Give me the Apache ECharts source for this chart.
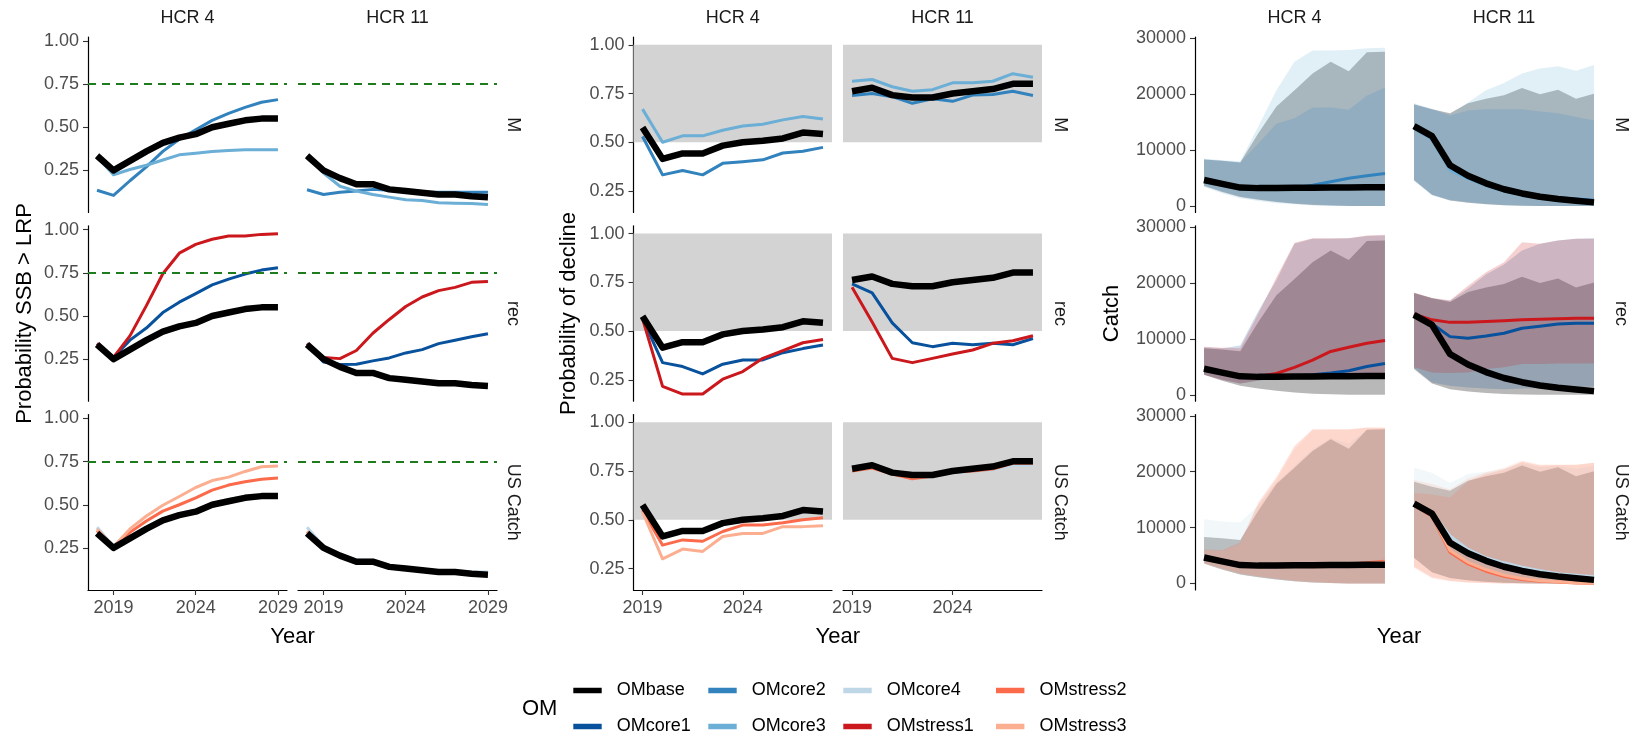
<!DOCTYPE html>
<html>
<head>
<meta charset="utf-8">
<script src="https://cdn.jsdelivr.net/npm/echarts@6/dist/echarts.min.js"></script>
<style>
  html, body { margin: 0; padding: 0; background: #ffffff; }
  #chart { width: 1637px; height: 738px; }
</style>
</head>
<body>
<div id="chart"></div>
<script>
// ---------------- data ----------------
const yearsSSB   = [2018, 2019, 2020, 2021, 2022, 2023, 2024, 2025, 2026, 2027, 2028, 2029];
const yearsDec   = [2019, 2020, 2021, 2022, 2023, 2024, 2025, 2026, 2027, 2028];
const yearsCatch = [2019, 2020, 2021, 2022, 2023, 2024, 2025, 2026, 2027, 2028, 2029];

const hcrLabels = ['HCR 4', 'HCR 11'];
const rowLabels = ['M', 'rec', 'US Catch'];
const omNames = ['OMbase', 'OMcore1', 'OMcore2', 'OMcore3', 'OMcore4', 'OMstress1', 'OMstress2', 'OMstress3'];

// Probability SSB > LRP
const ssbBase4        = [0.335, 0.25, 0.305, 0.36, 0.41, 0.44, 0.46, 0.50, 0.52, 0.54, 0.55, 0.55];
const ssbBase11       = [0.335, 0.25, 0.205, 0.17, 0.17, 0.14, 0.13, 0.12, 0.11, 0.11, 0.10, 0.095];
const ssbCore2M4      = [0.135, 0.105, 0.19, 0.27, 0.36, 0.43, 0.485, 0.54, 0.58, 0.615, 0.645, 0.66];
const ssbCore3M4      = [0.33, 0.225, 0.255, 0.28, 0.31, 0.34, 0.35, 0.36, 0.365, 0.37, 0.37, 0.37];
const ssbCore2M11     = [0.138, 0.11, 0.123, 0.13, 0.14, 0.135, 0.13, 0.125, 0.123, 0.123, 0.123, 0.123];
const ssbCore3M11     = [0.335, 0.235, 0.158, 0.13, 0.11, 0.095, 0.08, 0.075, 0.062, 0.06, 0.058, 0.052];
const ssbCore1Rec4    = [0.34, 0.26, 0.36, 0.43, 0.52, 0.58, 0.63, 0.68, 0.714, 0.743, 0.766, 0.78];
const ssbStress1Rec4  = [0.34, 0.26, 0.385, 0.56, 0.745, 0.864, 0.915, 0.945, 0.964, 0.964, 0.973, 0.977];
const ssbCore1Rec11   = [0.34, 0.234, 0.219, 0.22, 0.24, 0.257, 0.286, 0.305, 0.34, 0.36, 0.38, 0.397];
const ssbStress1Rec11 = [0.34, 0.26, 0.253, 0.30, 0.40, 0.48, 0.555, 0.61, 0.647, 0.666, 0.695, 0.70];
const ssbCore4US4     = [0.37, 0.26, 0.315, 0.365, 0.415, 0.45, 0.47, 0.51, 0.53, 0.55, 0.555, 0.555];
const ssbStress2US4   = [0.35, 0.256, 0.34, 0.406, 0.463, 0.50, 0.54, 0.585, 0.614, 0.633, 0.648, 0.655];
const ssbStress3US4   = [0.36, 0.256, 0.36, 0.435, 0.497, 0.548, 0.60, 0.64, 0.66, 0.693, 0.72, 0.725];
const ssbCore4US11    = [0.37, 0.26, 0.215, 0.18, 0.18, 0.15, 0.135, 0.125, 0.115, 0.115, 0.11, 0.11];
const ssbStress2US11  = [0.345, 0.25, 0.20, 0.165, 0.165, 0.14, 0.13, 0.12, 0.115, 0.11, 0.10, 0.095];
const ssbStress3US11  = [0.345, 0.25, 0.205, 0.17, 0.168, 0.14, 0.13, 0.12, 0.11, 0.108, 0.10, 0.092];
const lrpThreshold = 0.75;

// Probability of decline
const decBase4        = [0.576, 0.415, 0.443, 0.443, 0.483, 0.50, 0.508, 0.52, 0.55, 0.542];
const decBase11       = [0.762, 0.78, 0.742, 0.73, 0.73, 0.75, 0.762, 0.773, 0.80, 0.80];
const decCore2M4      = [0.53, 0.333, 0.355, 0.333, 0.392, 0.40, 0.41, 0.445, 0.454, 0.474];
const decCore3M4      = [0.67, 0.50, 0.533, 0.533, 0.562, 0.584, 0.593, 0.615, 0.632, 0.62];
const decCore2M11     = [0.74, 0.75, 0.734, 0.70, 0.723, 0.71, 0.742, 0.745, 0.762, 0.74];
const decCore3M11     = [0.813, 0.822, 0.785, 0.762, 0.77, 0.805, 0.805, 0.813, 0.852, 0.834];
const decCore1Rec4    = [0.564, 0.338, 0.318, 0.28, 0.33, 0.352, 0.352, 0.389, 0.41, 0.428];
const decStress1Rec4  = [0.564, 0.216, 0.177, 0.177, 0.253, 0.292, 0.36, 0.40, 0.44, 0.457];
const decCore1Rec11   = [0.742, 0.696, 0.542, 0.44, 0.42, 0.437, 0.43, 0.437, 0.43, 0.462];
const decStress1Rec11 = [0.725, 0.547, 0.36, 0.338, 0.36, 0.382, 0.403, 0.437, 0.45, 0.476];
const decCore4US4     = [0.57, 0.41, 0.44, 0.44, 0.48, 0.50, 0.51, 0.52, 0.548, 0.54];
const decStress2US4   = [0.55, 0.37, 0.397, 0.39, 0.44, 0.473, 0.473, 0.485, 0.50, 0.51];
const decStress3US4   = [0.54, 0.30, 0.35, 0.338, 0.414, 0.43, 0.43, 0.465, 0.465, 0.47];
const decCore4US11    = [0.76, 0.775, 0.738, 0.725, 0.725, 0.74, 0.75, 0.755, 0.78, 0.78];
const decStress2US11  = [0.75, 0.765, 0.735, 0.71, 0.725, 0.745, 0.75, 0.76, 0.79, 0.79];
const decStress3US11  = [0.755, 0.77, 0.74, 0.72, 0.725, 0.745, 0.755, 0.765, 0.795, 0.795];
const declineBand = [0.5, 1.0];

// Catch: median lines
const catchBase4        = [4650, 3950, 3300, 3200, 3200, 3250, 3250, 3300, 3300, 3350, 3350];
const catchBase11       = [14300, 12500, 7300, 5400, 4050, 3000, 2250, 1650, 1250, 950, 650];
const catchCore2M4      = [4550, 3900, 3250, 3150, 3150, 3250, 3700, 4350, 4950, 5400, 5800];
const catchCore3M4      = [4350, 3700, 3100, 3050, 3050, 3100, 3150, 3200, 3200, 3250, 3250];
const catchCore2M11     = [14200, 12300, 7000, 5300, 4000, 3000, 2300, 1800, 1500, 1250, 1050];
const catchCore3M11     = [13900, 11900, 6400, 4900, 3650, 2650, 1950, 1400, 1000, 700, 350];
const catchCore1Rec4    = [4650, 3950, 3300, 3200, 3250, 3400, 3600, 3900, 4300, 5050, 5600];
const catchStress1Rec4  = [4650, 3950, 3300, 3250, 3800, 4900, 6200, 7750, 8500, 9200, 9700];
const catchCore1Rec11   = [14400, 12700, 10400, 10100, 10500, 11000, 11900, 12250, 12650, 12800, 12800];
const catchStress1Rec11 = [14400, 13400, 12950, 12950, 13100, 13250, 13400, 13500, 13600, 13700, 13700];
const catchCore4US4     = [4750, 4000, 3350, 3250, 3250, 3300, 3300, 3350, 3350, 3400, 3400];
const catchStress2US4   = [4600, 3900, 3300, 3200, 3200, 3250, 3300, 3400, 3500, 3700, 4000];
const catchStress3US4   = [4500, 3850, 3250, 3150, 3150, 3200, 3250, 3300, 3400, 3550, 3800];
const catchCore4US11    = [14300, 12700, 8500, 6100, 4600, 3700, 2900, 2300, 1750, 1500, 1200];
const catchStress2US11  = [14000, 12000, 5600, 3500, 2200, 1300, 700, 400, 250, 100, 50];
const catchStress3US11  = [14000, 12100, 5900, 3800, 2500, 1500, 900, 500, 300, 150, 80];

// Catch: interval bounds (low / high)
const baseLo4      = [3600, 2500, 1600, 1100, 700, 400, 200, 100, 0, 0, 0];
const baseHi4      = [8300, 8100, 7800, 13000, 17800, 20700, 23700, 25800, 24100, 27500, 27600];
const baseLo11     = [4600, 2000, 1000, 600, 300, 150, 50, 0, 0, 0, 0];
const baseHi11     = [18200, 17300, 16600, 18400, 19200, 19800, 21100, 20000, 20800, 19200, 20100];
const core2LoM4    = [3700, 2600, 1700, 1200, 800, 500, 300, 150, 50, 0, 0];
const core2HiM4    = [8300, 8100, 7800, 11200, 14700, 15700, 17600, 17600, 17200, 19700, 21200];
const core3LoM4    = [3400, 2300, 1400, 900, 500, 300, 100, 0, 0, 0, 0];
const core3HiM4    = [8500, 8200, 8000, 14200, 20700, 25800, 27800, 27800, 27900, 28200, 28300];
const core2LoM11   = [4700, 2000, 1100, 700, 400, 200, 100, 0, 0, 0, 0];
const core2HiM11   = [18100, 17300, 16200, 17100, 17300, 17300, 17300, 16900, 16600, 15900, 15300];
const core3LoM11   = [4500, 1900, 1000, 650, 350, 150, 50, 0, 0, 0, 0];
const core3HiM11   = [18400, 17400, 16400, 18500, 20700, 22000, 23700, 24600, 25000, 24200, 25200];
const core1LoRec4  = [3600, 2700, 2000, 2500, 2900, 3000, 3100, 3100, 3200, 3200, 3200];
const core1HiRec4  = [8500, 8300, 8800, 15000, 20500, 27000, 27900, 27900, 28000, 28400, 28500];
const stress1LoRec4 = [3600, 2700, 2000, 2600, 3000, 3100, 3200, 3200, 3300, 3300, 3300];
const stress1HiRec4 = [8600, 8400, 8300, 14500, 21000, 27200, 28000, 28000, 28000, 28500, 28600];
const core1LoRec11 = [4800, 2200, 1600, 1300, 1100, 1000, 1100, 1200, 1300, 1400, 1500];
const core1HiRec11 = [18200, 17200, 16800, 19000, 21500, 23300, 25800, 27000, 27600, 27900, 28000];
const stress1LoRec11 = [4900, 4000, 3900, 4000, 4600, 4900, 5500, 5500, 5600, 5600, 5600];
const stress1HiRec11 = [18300, 17300, 16900, 19500, 21900, 23700, 27300, 27000, 27600, 27900, 27900];
const core4LoUS4   = [3600, 2500, 1600, 1100, 700, 400, 200, 100, 0, 0, 0];
const core4HiUS4   = [11500, 11100, 10900, 14000, 18000, 21000, 24000, 26000, 25000, 27500, 27600];
const stress2LoUS4 = [3700, 2700, 1800, 1300, 900, 500, 300, 100, 0, 0, 0];
const stress2HiUS4 = [6100, 6000, 7400, 14500, 19000, 24600, 27600, 27600, 27600, 27900, 27900];
const stress3LoUS4 = [3500, 2500, 1700, 1200, 800, 400, 200, 50, 0, 0, 0];
const stress3HiUS4 = [5900, 5800, 7000, 14000, 18500, 24000, 27400, 27500, 27500, 27800, 27800];
const core4LoUS11  = [4600, 2000, 1000, 600, 300, 150, 50, 0, 0, 0, 0];
const core4HiUS11  = [20700, 19800, 18000, 19600, 20000, 20500, 21500, 20800, 21000, 20500, 21000];
const stress2LoUS11 = [3000, 1100, 500, 200, 100, 0, 0, 0, 0, 0, 0];
const stress2HiUS11 = [16200, 15900, 15400, 18300, 19600, 20400, 21800, 21100, 21200, 21200, 21600];
const stress3LoUS11 = [2800, 900, 400, 200, 100, 0, 0, 0, 0, 0, 0];
const stress3HiUS11 = [18500, 17800, 16800, 18800, 19900, 20700, 22000, 21300, 21300, 21300, 21600];

// ---------------- styling ----------------
const FONT = '"Liberation Sans", Arial, Helvetica, sans-serif';
const OM_COLORS = {
  OMbase: '#000000', OMcore1: '#08519C', OMcore2: '#3182BD', OMcore3: '#6BAED6',
  OMcore4: '#BDD7E7', OMstress1: '#CB181D', OMstress2: '#FB6A4A', OMstress3: '#FCAE91'
};
const BASE_RIBBON_ALPHA = 0.28;
const RIBBON_ALPHA = 0.2;

// panel column extents (px) and facet row extents (px)
const COLS = [[88, 287], [298, 497], [633.5, 832], [843, 1042], [1195, 1394], [1405, 1603]];
const ROWS = [[37, 212.5], [225.75, 401.25], [414.5, 590]];
const STRIP_X = [513, 1060, 1621];
const YTITLE_X = [25, 569, 1112];

const rowKeys = ['M', 'rec', 'US'];
const hcrKeys = ['4', '11'];

const panels = [
  {
    yTitle: 'Probability SSB > LRP', years: yearsSSB,
    xmin: 2017.45, xmax: 2029.55, ymin: 0.006, ymax: 1.023,
    xTicks: [2019, 2024, 2029], yTicks: [0.25, 0.5, 0.75, 1.0], yFmt: v => v.toFixed(2),
    showX: true, hline: lrpThreshold,
    lines: {
      'M|4':   [['OMcore2', ssbCore2M4], ['OMcore3', ssbCore3M4], ['OMbase', ssbBase4]],
      'M|11':  [['OMcore2', ssbCore2M11], ['OMcore3', ssbCore3M11], ['OMbase', ssbBase11]],
      'rec|4': [['OMcore1', ssbCore1Rec4], ['OMstress1', ssbStress1Rec4], ['OMbase', ssbBase4]],
      'rec|11':[['OMcore1', ssbCore1Rec11], ['OMstress1', ssbStress1Rec11], ['OMbase', ssbBase11]],
      'US|4':  [['OMcore4', ssbCore4US4], ['OMstress2', ssbStress2US4], ['OMstress3', ssbStress3US4], ['OMbase', ssbBase4]],
      'US|11': [['OMcore4', ssbCore4US11], ['OMstress2', ssbStress2US11], ['OMstress3', ssbStress3US11], ['OMbase', ssbBase11]]
    }
  },
  {
    yTitle: 'Probability of decline', years: yearsDec,
    xmin: 2018.55, xmax: 2028.45, ymin: 0.14, ymax: 1.04,
    xTicks: [2019, 2024], yTicks: [0.25, 0.5, 0.75, 1.0], yFmt: v => v.toFixed(2),
    showX: true, band: declineBand,
    lines: {
      'M|4':   [['OMcore2', decCore2M4], ['OMcore3', decCore3M4], ['OMbase', decBase4]],
      'M|11':  [['OMcore2', decCore2M11], ['OMcore3', decCore3M11], ['OMbase', decBase11]],
      'rec|4': [['OMcore1', decCore1Rec4], ['OMstress1', decStress1Rec4], ['OMbase', decBase4]],
      'rec|11':[['OMcore1', decCore1Rec11], ['OMstress1', decStress1Rec11], ['OMbase', decBase11]],
      'US|4':  [['OMcore4', decCore4US4], ['OMstress2', decStress2US4], ['OMstress3', decStress3US4], ['OMbase', decBase4]],
      'US|11': [['OMcore4', decCore4US11], ['OMstress2', decStress2US11], ['OMstress3', decStress3US11], ['OMbase', decBase11]]
    }
  },
  {
    yTitle: 'Catch', years: yearsCatch,
    xmin: 2018.5, xmax: 2029.5, ymin: -1160, ymax: 30230,
    xTicks: [], yTicks: [0, 10000, 20000, 30000], yFmt: v => String(v),
    showX: false,
    ribbons: {
      'M|4':   [['OMbase', baseLo4, baseHi4], ['OMcore2', core2LoM4, core2HiM4], ['OMcore3', core3LoM4, core3HiM4]],
      'M|11':  [['OMbase', baseLo11, baseHi11], ['OMcore2', core2LoM11, core2HiM11], ['OMcore3', core3LoM11, core3HiM11]],
      'rec|4': [['OMbase', baseLo4, baseHi4], ['OMcore1', core1LoRec4, core1HiRec4], ['OMstress1', stress1LoRec4, stress1HiRec4]],
      'rec|11':[['OMbase', baseLo11, baseHi11], ['OMcore1', core1LoRec11, core1HiRec11], ['OMstress1', stress1LoRec11, stress1HiRec11]],
      'US|4':  [['OMbase', baseLo4, baseHi4], ['OMcore4', core4LoUS4, core4HiUS4], ['OMstress2', stress2LoUS4, stress2HiUS4], ['OMstress3', stress3LoUS4, stress3HiUS4]],
      'US|11': [['OMbase', baseLo11, baseHi11], ['OMcore4', core4LoUS11, core4HiUS11], ['OMstress2', stress2LoUS11, stress2HiUS11], ['OMstress3', stress3LoUS11, stress3HiUS11]]
    },
    lines: {
      'M|4':   [['OMcore2', catchCore2M4], ['OMcore3', catchCore3M4], ['OMbase', catchBase4]],
      'M|11':  [['OMcore2', catchCore2M11], ['OMcore3', catchCore3M11], ['OMbase', catchBase11]],
      'rec|4': [['OMcore1', catchCore1Rec4], ['OMstress1', catchStress1Rec4], ['OMbase', catchBase4]],
      'rec|11':[['OMcore1', catchCore1Rec11], ['OMstress1', catchStress1Rec11], ['OMbase', catchBase11]],
      'US|4':  [['OMcore4', catchCore4US4], ['OMstress2', catchStress2US4], ['OMstress3', catchStress3US4], ['OMbase', catchBase4]],
      'US|11': [['OMcore4', catchCore4US11], ['OMstress2', catchStress2US11], ['OMstress3', catchStress3US11], ['OMbase', catchBase11]]
    }
  }
];

// ---------------- helpers ----------------
function hexToRgba(hex, a) {
  const n = parseInt(hex.slice(1), 16);
  return `rgba(${(n >> 16) & 255},${(n >> 8) & 255},${n & 255},${a})`;
}

function lineSeries(gi, years, vals, om) {
  return {
    type: 'line', xAxisIndex: gi, yAxisIndex: gi,
    data: years.map((y, i) => [y, vals[i]]),
    showSymbol: false, symbol: 'none', silent: true, animation: false,
    lineStyle: { color: OM_COLORS[om], width: om === 'OMbase' ? 6.5 : 3, cap: 'butt', join: 'round' },
    z: om === 'OMbase' ? 4 : 3
  };
}

function ribbonSeries(gi, years, lo, hi, om) {
  const alpha = om === 'OMbase' ? BASE_RIBBON_ALPHA : RIBBON_ALPHA;
  const fill = hexToRgba(OM_COLORS[om], alpha);
  return {
    type: 'custom', coordinateSystem: 'cartesian2d', xAxisIndex: gi, yAxisIndex: gi,
    data: years.map((y, i) => [y, lo[i], hi[i]]),
    encode: { x: 0, y: [1, 2] },
    silent: true, animation: false, z: 2,
    renderItem: (params, api) => {
      if (params.dataIndex !== 0) return null;
      const pts = [];
      for (let i = 0; i < years.length; i++) pts.push(api.coord([years[i], hi[i]]));
      for (let i = years.length - 1; i >= 0; i--) pts.push(api.coord([years[i], lo[i]]));
      return { type: 'polygon', shape: { points: pts }, style: { fill: fill } };
    }
  };
}

function bandSeries(gi, band) {
  return {
    type: 'custom', coordinateSystem: 'cartesian2d', xAxisIndex: gi, yAxisIndex: gi,
    data: [[band[0], band[1]]], silent: true, animation: false, z: 1,
    renderItem: (params, api) => {
      const cs = params.coordSys;
      const yTop = api.coord([0, api.value(1)])[1];
      const yBot = api.coord([0, api.value(0)])[1];
      return { type: 'rect', shape: { x: cs.x, y: yTop, width: cs.width, height: yBot - yTop },
               style: { fill: '#D3D3D3' } };
    }
  };
}

function text(x, y, str, size, color, opts) {
  opts = opts || {};
  return {
    type: 'text', x: x, y: y, rotation: opts.rotation || 0, silent: true, z: 10,
    style: {
      text: str, x: 0, y: 0, fill: color, fontSize: size, fontFamily: FONT,
      align: opts.align || 'center', verticalAlign: 'middle',
      textAlign: opts.align || 'center', textVerticalAlign: 'middle'
    }
  };
}

// ---------------- assemble ----------------
const grids = [], xAxes = [], yAxes = [], series = [], graphics = [];

panels.forEach((P, p) => {
  rowKeys.forEach((rk, r) => {
    hcrKeys.forEach((hk, c) => {
      const gi = grids.length;
      const [x0, x1] = COLS[p * 2 + c];
      const [y0, y1] = ROWS[r];
      grids.push({ left: x0, top: y0, width: x1 - x0, height: y1 - y0, containLabel: false });

      const bottomRow = r === 2 && P.showX;
      xAxes.push({
        gridIndex: gi, type: 'value', min: P.xmin, max: P.xmax,
        axisLine: { show: bottomRow, onZero: false, lineStyle: { color: '#000', width: 1.2 } },
        axisTick: { show: bottomRow, customValues: P.xTicks, length: 5, lineStyle: { color: '#333', width: 1.1 } },
        axisLabel: { show: bottomRow, customValues: P.xTicks, formatter: v => String(v),
                     color: '#4D4D4D', fontSize: 18, fontFamily: FONT, margin: 9 },
        splitLine: { show: false }
      });
      const leftCol = c === 0;
      yAxes.push({
        gridIndex: gi, type: 'value', min: P.ymin, max: P.ymax,
        axisLine: { show: leftCol, onZero: false, lineStyle: { color: '#000', width: 1.2 } },
        axisTick: { show: leftCol, customValues: P.yTicks, length: 5, lineStyle: { color: '#333', width: 1.1 } },
        axisLabel: { show: leftCol, customValues: P.yTicks, formatter: P.yFmt, color: '#4D4D4D',
                     fontSize: 18, fontFamily: FONT, margin: 9 },
        splitLine: { show: false }
      });

      const key = rk + '|' + hk;
      if (P.band) series.push(bandSeries(gi, P.band));
      if (P.ribbons) P.ribbons[key].forEach(([om, lo, hi]) => series.push(ribbonSeries(gi, P.years, lo, hi, om)));
      P.lines[key].forEach(([om, vals], k) => {
        const s = lineSeries(gi, P.years, vals, om);
        if (k === 0 && P.hline != null) {
          s.markLine = {
            silent: true, symbol: ['none', 'none'], animation: false, label: { show: false },
            lineStyle: { color: '#1E7B1E', width: 1.8, type: [8, 6] },
            data: [{ yAxis: P.hline }]
          };
        }
        series.push(s);
      });

      // column strip label
      if (r === 0) graphics.push(text((x0 + x1) / 2, 18.5, hcrLabels[c], 18, '#1A1A1A'));
    });
    // row strip label on the right
    graphics.push(text(STRIP_X[p], (ROWS[r][0] + ROWS[r][1]) / 2, rowLabels[r], 18, '#1A1A1A',
                       { rotation: -Math.PI / 2 }));
  });
  // axis titles
  graphics.push(text(YTITLE_X[p], (ROWS[0][0] + ROWS[2][1]) / 2, P.yTitle, 22, '#000', { rotation: Math.PI / 2 }));
  graphics.push(text((COLS[p * 2][0] + COLS[p * 2 + 1][1]) / 2, 637, 'Year', 22, '#000'));
});

// legend: two rows, filled column by column
const legendCols = [573.3, 708.3, 843.3, 996];
const legendRows = [690.5, 726.5];
graphics.push(text(522, 709, 'OM', 22, '#000', { align: 'left' }));
omNames.forEach((om, i) => {
  const col = Math.floor(i / 2), row = i % 2;
  const kx = legendCols[col], ky = legendRows[row];
  graphics.push({
    type: 'line', silent: true, z: 10,
    shape: { x1: kx, y1: ky, x2: kx + 28.4, y2: ky },
    style: { stroke: OM_COLORS[om], lineWidth: 5.5, lineCap: 'butt' }
  });
  graphics.push(text(kx + 43.4, ky, om, 18, '#000', { align: 'left' }));
});

const chart = echarts.init(document.getElementById('chart'), null, { renderer: 'canvas' });
chart.setOption({
  backgroundColor: '#ffffff',
  animation: false,
  grid: grids,
  xAxis: xAxes,
  yAxis: yAxes,
  series: series,
  graphic: { elements: graphics }
});
</script>
</body>
</html>
